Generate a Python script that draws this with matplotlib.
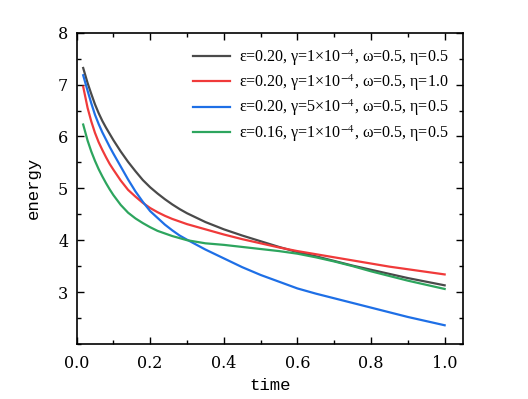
import numpy as np
import matplotlib
matplotlib.use('Agg')
import matplotlib.pyplot as plt
from matplotlib.ticker import MultipleLocator, FormatStrFormatter

plt.rcParams['font.family'] = ['DejaVu Serif']
plt.rcParams['mathtext.fontset'] = 'stix'

# values
time = [0.018, 0.03, 0.04, 0.05, 0.06, 0.07, 0.08, 0.09, 0.10, 0.12, 0.14, 0.16, 0.18,
        0.20, 0.22, 0.24, 0.26, 0.28, 0.30, 0.35, 0.40, 0.45, 0.50, 0.55, 0.60,
        0.65, 0.70, 0.75, 0.80, 0.85, 0.90, 0.95, 1.00]
e_black = [7.32, 7.03, 6.82, 6.62, 6.45, 6.30, 6.17, 6.05, 5.93, 5.71, 5.51, 5.33, 5.16,
           5.02, 4.90, 4.79, 4.69, 4.60, 4.52, 4.35, 4.21, 4.09, 3.98, 3.87, 3.77,
           3.69, 3.60, 3.51, 3.43, 3.35, 3.27, 3.20, 3.13]
e_red = [6.96, 6.55, 6.29, 6.07, 5.89, 5.74, 5.60, 5.47, 5.36, 5.15, 4.97, 4.84, 4.72,
         4.62, 4.54, 4.47, 4.41, 4.36, 4.31, 4.21, 4.11, 4.02, 3.94, 3.86, 3.79,
         3.73, 3.67, 3.61, 3.55, 3.49, 3.44, 3.39, 3.34]
e_blue = [7.18, 6.88, 6.64, 6.42, 6.24, 6.08, 5.94, 5.80, 5.67, 5.42, 5.17, 4.94, 4.74,
          4.56, 4.43, 4.30, 4.19, 4.09, 4.01, 3.82, 3.65, 3.48, 3.33, 3.20, 3.07,
          2.97, 2.88, 2.79, 2.70, 2.61, 2.52, 2.44, 2.36]
e_green = [6.23, 5.92, 5.71, 5.53, 5.37, 5.23, 5.10, 4.98, 4.87, 4.68, 4.53, 4.42, 4.33,
           4.25, 4.18, 4.13, 4.08, 4.04, 4.00, 3.94, 3.91, 3.87, 3.83, 3.79, 3.74,
           3.67, 3.59, 3.50, 3.40, 3.31, 3.22, 3.14, 3.06]

labels = [
    r'ε=0.20, γ=1×10$^{-4}$, ω=0.5, η=0.5',
    r'ε=0.20, γ=1×10$^{-4}$, ω=0.5, η=1.0',
    r'ε=0.20, γ=5×10$^{-4}$, ω=0.5, η=0.5',
    r'ε=0.16, γ=1×10$^{-4}$, ω=0.5, η=0.5',
]
colors = ['#4a4a4a', '#f03a3a', '#1e6fe6', '#2da55e']

fig = plt.figure(figsize=(5.28, 3.99), dpi=100)
ax = fig.add_axes([0.145, 0.138, 0.732, 0.78])

for e, lab, c in zip([e_black, e_red, e_blue, e_green], labels, colors):
    ax.plot(time, e, color=c, lw=1.6, label=lab)

ax.set_xlim(0, 1.05)
ax.set_ylim(2, 8)
ax.xaxis.set_major_locator(MultipleLocator(0.2))
ax.xaxis.set_minor_locator(MultipleLocator(0.1))
ax.yaxis.set_minor_locator(MultipleLocator(0.5))
ax.set_yticks([3, 4, 5, 6, 7, 8])
ax.xaxis.set_major_formatter(FormatStrFormatter('%.1f'))
ax.tick_params(which='both', direction='in', top=True, right=True, labelsize=11.5, width=1)
ax.tick_params(which='major', length=5)
ax.tick_params(which='minor', length=3)
ax.tick_params(axis='x', pad=8)
ax.tick_params(axis='y', pad=6)
for s in ax.spines.values():
    s.set_linewidth(1.2)

ax.set_xlabel('time', fontsize=12.5, family='Liberation Mono', labelpad=4)
ax.set_ylabel('energy', fontsize=12.5, family='Liberation Mono', labelpad=12)

ax.legend(loc='upper right', frameon=False, handlelength=2.3,
          labelspacing=0.3, borderaxespad=0.5, handletextpad=0.6,
          prop={'family': 'Liberation Serif', 'size': 11.5})

fig.savefig('out.png', dpi=100)
